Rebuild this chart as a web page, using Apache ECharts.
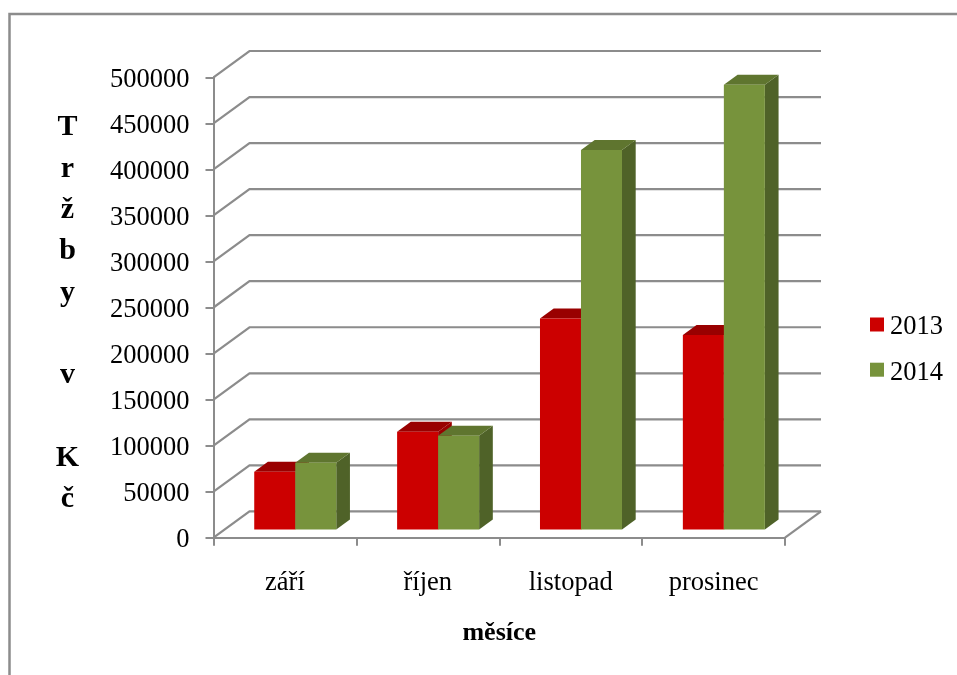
<!DOCTYPE html>
<html>
<head>
<meta charset="utf-8">
<style>html,body{margin:0;padding:0;background:#fff}#chart{width:957px;height:675px}</style>
<script src="https://cdn.jsdelivr.net/npm/echarts@6/dist/echarts.min.js"></script>
</head>
<body>
<div id="chart"></div>
<script>
// Monthly revenue in CZK, two years side by side
const months = ['září', 'říjen', 'listopad', 'prosinec'];
const sales2013 = [62500, 106000, 229000, 211000];
const sales2014 = [72300, 101600, 412000, 483000];
const valueTicks = [0, 50000, 100000, 150000, 200000, 250000, 300000, 350000, 400000, 450000, 500000];
const valueAxisLetters = ['T', 'r', 'ž', 'b', 'y', ' ', 'v', ' ', 'K', 'č'];

const FONT = '"Liberation Serif", "Times New Roman", serif';
const LINE = '#8c8c8c';
// Oblique projection of the chart box: wall depth and bar depth
const WALL = { dx: 36, dy: -26.3 };
const BAR_SHIFT = { dx: 10.3, dy: -8.3 };
const BAR_DEPTH = { dx: 13.7, dy: -10 };
const BAR_SHARE = 0.287;

function wallItem(params, api) {
  const box = params.coordSys;
  const y = api.coord([0, api.value(1)])[1];
  const left = box.x, right = box.x + box.width;
  const children = [{
    type: 'polyline',
    shape: { points: [[left, y], [left + WALL.dx, y + WALL.dy], [right + WALL.dx, y + WALL.dy]] },
    style: { stroke: LINE, lineWidth: 2.2, fill: 'none' }
  }];
  if (api.value(1) === 0) {
    children.push({
      type: 'line',
      shape: { x1: right, y1: y, x2: right + WALL.dx, y2: y + WALL.dy },
      style: { stroke: LINE, lineWidth: 2.2 }
    });
  }
  return { type: 'group', children };
}

function barItem(shade, side) {
  return function (params, api) {
    const cat = api.value(0);
    const top = api.coord([cat, api.value(1)]);
    const base = api.coord([cat, 0]);
    const w = api.size([1, 0])[0] * BAR_SHARE;
    const x0 = top[0] + BAR_SHIFT.dx + (side === 0 ? -w : 0);
    const x1 = x0 + w;
    const yT = top[1] + BAR_SHIFT.dy;
    const yB = base[1] + BAR_SHIFT.dy;
    const d = BAR_DEPTH;
    return {
      type: 'group',
      children: [
        { type: 'polygon', shape: { points: [[x1, yT], [x1 + d.dx, yT + d.dy], [x1 + d.dx, yB + d.dy], [x1, yB]] }, style: { fill: shade.side } },
        { type: 'polygon', shape: { points: [[x0, yT], [x0 + d.dx, yT + d.dy], [x1 + d.dx, yT + d.dy], [x1, yT]] }, style: { fill: shade.top } },
        { type: 'rect', shape: { x: x0, y: yT, width: w, height: yB - yT }, style: { fill: shade.front } }
      ]
    };
  };
}

const RED = { front: '#cc0000', top: '#990000', side: '#990000' };
const GREEN = { front: '#77933c', top: '#5f752f', side: '#4f6228' };

const chart = echarts.init(document.getElementById('chart'), null, { renderer: 'canvas' });
chart.setOption({
  animation: false,
  backgroundColor: '#fff',
  textStyle: { fontFamily: FONT },
  graphic: [{
    type: 'polyline',
    silent: true,
    shape: { points: [[9.5, 675], [9.5, 14], [957, 14]] },
    style: { stroke: LINE, lineWidth: 2.5, fill: 'none' }
  }],
  // Stacked letters of the value-axis caption
  title: {
    text: valueAxisLetters.join('\n'),
    left: 67.5,
    top: 107,
    padding: 0,
    textAlign: 'center',
    textStyle: { fontFamily: FONT, fontSize: 30, fontWeight: 'bold', color: '#000', lineHeight: 41.3 }
  },
  legend: {
    orient: 'vertical',
    left: 865,
    top: 309,
    icon: 'rect',
    itemWidth: 14,
    itemHeight: 14,
    itemGap: 18.2,
    data: ['2013', '2014'],
    formatter: '{t|{name}}',
    textStyle: { rich: { t: { fontFamily: FONT, fontSize: 26.5, color: '#000', padding: [6, 0, 0, 1] } } }
  },
  grid: { left: 213.5, top: 77.3, width: 571.5, height: 460.4 },
  xAxis: {
    type: 'category',
    data: months,
    name: 'měsíce',
    nameLocation: 'middle',
    nameGap: 83,
    nameTextStyle: { fontFamily: FONT, fontSize: 26, fontWeight: 'bold', color: '#000' },
    axisLine: { lineStyle: { color: LINE, width: 2 } },
    axisTick: { show: true, length: 8, lineStyle: { color: LINE, width: 2 } },
    axisLabel: { fontFamily: FONT, fontSize: 26.5, color: '#000', margin: 32 },
    splitLine: { show: false }
  },
  yAxis: {
    type: 'value',
    min: 0,
    max: 500000,
    interval: 50000,
    axisLine: { show: true, lineStyle: { color: LINE, width: 2 } },
    axisTick: { show: true, length: 8, lineStyle: { color: LINE, width: 2 } },
    axisLabel: { fontFamily: FONT, fontSize: 26.5, color: '#000', margin: 24, verticalAlign: 'top', lineHeight: 5, formatter: v => String(v) },
    splitLine: { show: false }
  },
  series: [
    {
      name: 'stěny',
      type: 'custom',
      silent: true,
      z: 1,
      renderItem: wallItem,
      data: valueTicks.map(v => [0, v]),
      encode: { x: 0, y: 1 }
    },
    {
      name: '2013',
      type: 'custom',
      z: 2,
      itemStyle: { color: RED.front },
      renderItem: barItem(RED, 0),
      data: sales2013.map((v, i) => [i, v]),
      encode: { x: 0, y: 1 }
    },
    {
      name: '2014',
      type: 'custom',
      z: 3,
      itemStyle: { color: GREEN.front },
      renderItem: barItem(GREEN, 1),
      data: sales2014.map((v, i) => [i, v]),
      encode: { x: 0, y: 1 }
    }
  ]
});
</script>
</body>
</html>
